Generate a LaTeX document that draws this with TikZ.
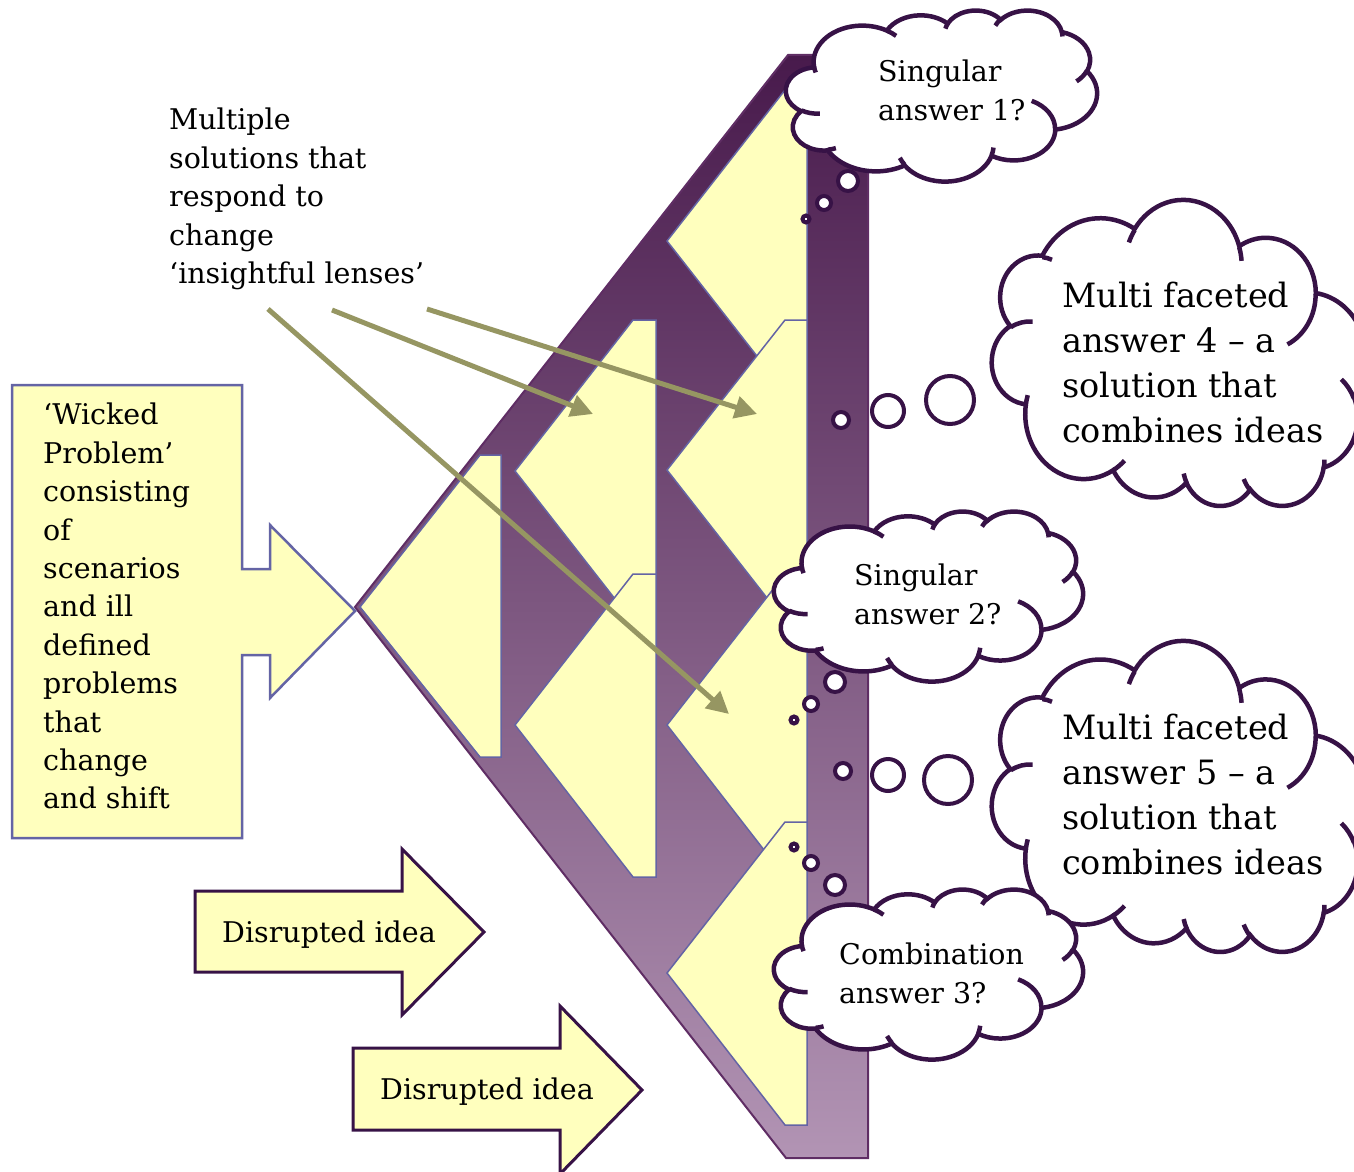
\documentclass[tikz,border=0pt]{standalone}
\usepackage{fontspec}
\setmainfont{DejaVu Serif}
\usetikzlibrary{arrows.meta}
\definecolor{yel}{RGB}{255,255,190}
\definecolor{slate}{RGB}{100,100,165}
\definecolor{dpur}{RGB}{55,18,70}
\definecolor{purline}{RGB}{95,45,100}
\definecolor{purtop}{RGB}{72,26,76}
\definecolor{purbot}{RGB}{178,148,180}
\definecolor{olivearr}{RGB}{150,150,98}
\newcommand\carc[4]{arc[start angle={atan2((#1)*sin(#3),(#2)*cos(#3))}, delta angle={mod(atan2((#1)*sin((#3)+(#4)),(#2)*cos((#3)+(#4)))-atan2((#1)*sin(#3),(#2)*cos(#3))+720,360)}, x radius=#1, y radius=#2]}
% #1 x of left, #2 y of top (or bottom when #4<0), #3 width, #4 height (negative = flipped vertically)
\newcommand\pptcloud[4]{%
\begin{scope}[shift={(#1,#2)},xscale=#3/432,yscale=#4/432]
\path[cloudshape] (39.00,143.70) \carc{67.53}{91.90}{-190.4875}{123.7805} \carc{53.33}{72.67}{-144.1024}{89.9452} \carc{43.65}{59.45}{-145.8079}{99.7230} \carc{48.57}{65.95}{-130.9861}{117.2417} \carc{53.33}{72.73}{-78.7089}{109.0269} \carc{67.75}{92.20}{-46.2673}{130.2690} \carc{57.85}{78.67}{0.6250}{114.0333} \carc{67.52}{92.15}{22.4516}{115.1726} \carc{77.20}{105.43}{66.2426}{75.7110} \carc{43.60}{59.18}{-274.9421}{146.7356} \carc{43.45}{59.45}{-246.8285}{152.5189} -- cycle;
\path[cloudinner] (46.93,261.77) \carc{43.45}{59.45}{86.7420}{26.4295}
 (69.28,348.99) \carc{43.60}{59.18}{73.6105}{11.4475}
 (164.78,390.90) \carc{67.52}{92.15}{137.6242}{14.0811}
 (288.27,347.51) \carc{67.52}{92.15}{6.4533}{15.9984}
 (341.29,229.54) \carc{57.85}{78.67}{-70.2924}{70.9174}
 (417.98,153.54) \carc{53.33}{72.73}{30.3180}{27.7515}
 (383.24,54.26) \carc{48.57}{65.95}{-13.7443}{14.8589}
 (290.78,39.52) \carc{48.57}{65.95}{-149.1815}{18.1954}
 (221.41,47.20) \carc{43.65}{59.45}{-163.4943}{17.6864}
 (140.00,51.92) \carc{67.53}{91.90}{-66.7070}{12.3194}
 (41.27,157.89) \carc{67.53}{91.90}{157.6544}{11.8582};
\end{scope}}
\tikzset{
 chev/.style={fill=yel, draw=slate, line width=1.5pt, line join=miter},
 cloudshape/.style={fill=white, draw=dpur, line width=4.5pt},
 cloudinner/.style={draw=dpur, line width=4.5pt},
 bubble/.style={circle, fill=white, draw=dpur, line width=4pt, inner sep=0pt, outer sep=0pt},
 txt/.style={inner sep=0pt, anchor=north west, align=left, font=\fontsize{28.5}{38.4}\selectfont},
 bigtxt/.style={txt, font=\fontsize{33.5}{45}\selectfont},
 lens/.style={draw=olivearr, line width=5pt, -{Triangle[length=22pt,width=22pt]}},
 yelarrow/.style={fill=yel, draw=dpur, line width=3pt, line join=miter},
}
\begin{document}
\begin{tikzpicture}[x=1pt,y=-1pt]
\useasboundingbox (0,0) rectangle (1354,1172);
\clip (0,0) rectangle (1354,1172);
% purple frame
\draw[draw=purline, line width=2pt, top color=purtop, bottom color=purbot]
  (355,607) -- (788,55) -- (868,55) -- (868,1158) -- (786,1158) -- cycle;
% yellow chevrons
\draw[chev] (360,607) -- (480,455) -- (501,455) -- (501,757) -- (480,757) -- cycle;
\draw[chev] (515,471) -- (633,320) -- (656,320) -- (656,622) -- (633,622) -- cycle;
\draw[chev] (515,725) -- (633,574) -- (656,574) -- (656,877) -- (633,877) -- cycle;
\draw[chev] (667,241) -- (785,90) -- (807,90) -- (807,392) -- (785,392) -- cycle;
\draw[chev] (667,470) -- (785,320) -- (807,320) -- (807,621) -- (785,621) -- cycle;
\draw[chev] (667,725) -- (785,574) -- (807,574) -- (807,877) -- (785,877) -- cycle;
\draw[chev] (667,973) -- (785,822) -- (807,822) -- (807,1125) -- (785,1125) -- cycle;
% wicked problem arrow box
\draw[fill=yel, draw=slate, line width=2.5pt, line join=miter]
  (12,385) -- (242,385) -- (242,569) -- (270,569) -- (270,525) -- (355,611)
  -- (270,698) -- (270,655) -- (242,655) -- (242,838) -- (12,838) -- cycle;
\node[txt] (wicked) at (43,403) {‘Wicked\\Problem’\\consisting\\of\\scenarios\\and ill\\defined\\problems\\that\\change\\and shift};
% disrupted idea arrows
\draw[yelarrow] (195,891) -- (402,891) -- (402,849) -- (484,932) -- (402,1015) -- (402,972) -- (195,972) -- cycle;
\node[txt, anchor=base west] (dis1) at (222,942) {Disrupted idea};
\draw[yelarrow] (353,1048) -- (560,1048) -- (560,1006) -- (642,1090) -- (560,1174) -- (560,1130) -- (353,1130) -- cycle;
\node[txt, anchor=base west] (dis2) at (380,1099) {Disrupted idea};
% lenses text and arrows
\node[txt] (lenses) at (169,108) {Multiple\\solutions that\\respond to\\change\\‘insightful lenses’};
\coordinate (l1s) at (268,309); \coordinate (l1e) at (729,714);
\coordinate (l2s) at (332,310); \coordinate (l2e) at (593,414);
\coordinate (l3s) at (427,309); \coordinate (l3e) at (757,414);
\draw[lens] (l1s) -- (l1e);
\draw[lens] (l2s) -- (l2e);
\draw[lens] (l3s) -- (l3e);
% clouds
\pptcloud{786}{10}{311}{171}
\pptcloud{992}{507}{374}{-306}
\pptcloud{774}{511}{309}{170}
\pptcloud{992}{953}{374}{-311}
\pptcloud{774}{889}{309}{170}
% bubbles
\node[bubble, minimum size=20pt] (b1a) at (848,181) {};
\node[bubble, minimum size=14pt] (b1b) at (824,203) {};
\node[bubble, minimum size=7pt] (b1c) at (806,219) {};
\node[bubble, minimum size=16pt] (b2a) at (841,420) {};
\node[bubble, minimum size=32pt] (b2b) at (888,411) {};
\node[bubble, minimum size=48pt] (b2c) at (950,400) {};
\node[bubble, minimum size=20pt] (b3a) at (835,682) {};
\node[bubble, minimum size=14pt] (b3b) at (811,704) {};
\node[bubble, minimum size=7pt] (b3c) at (794,720) {};
\node[bubble, minimum size=16pt] (b4a) at (843,771) {};
\node[bubble, minimum size=32pt] (b4b) at (888,775) {};
\node[bubble, minimum size=48pt] (b4c) at (948,780) {};
\node[bubble, minimum size=7pt] (b5a) at (794,847) {};
\node[bubble, minimum size=14pt] (b5b) at (811,863) {};
\node[bubble, minimum size=20pt] (b5c) at (835,885) {};
% cloud texts
\node[txt] (ans1) at (878,60) {Singular\\answer 1?};
\node[bigtxt] (ans4) at (1062,282) {Multi faceted\\answer 4 – a\\solution that\\combines ideas};
\node[txt] (ans2) at (854,564) {Singular\\answer 2?};
\node[bigtxt] (ans5) at (1062,714) {Multi faceted\\answer 5 – a\\solution that\\combines ideas};
\node[txt] (ans3) at (839,943) {Combination\\answer 3?};
\end{tikzpicture}
\end{document}
